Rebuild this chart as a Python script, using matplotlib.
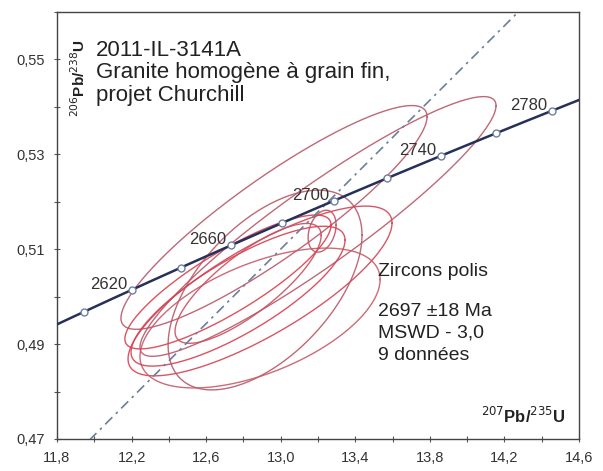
import numpy as np
import matplotlib
matplotlib.use("Agg")
import matplotlib.pyplot as plt

plt.rcParams['font.family'] = ['Liberation Sans', 'DejaVu Sans']

# Decay constants (per year)
LAMBDA_238 = 1.55125e-10
LAMBDA_235 = 9.8485e-10

# Concordia ages marked (Ma) and which of them carry a label
marker_ages = [2600, 2620, 2640, 2660, 2680, 2700, 2720, 2740, 2760, 2780]
labeled_ages = [2620, 2660, 2700, 2740, 2780]
curve_age_range = (2550, 2830)

# Intercepts of the regression line (Ma)
upper_intercept = 2697
lower_intercept = 0

# Analyses: 207Pb/235U, 206Pb/238U, 2-sigma errors and error correlation
x_ratio = [13.200, 12.964, 12.889, 12.916, 13.222, 12.889, 12.717, 12.771, 12.825]
y_ratio = [0.5148, 0.5167, 0.5012, 0.5014, 0.5138, 0.4955, 0.5031, 0.5001, 0.5028]
x_err2s = [0.955, 0.821, 0.708, 0.520, 0.075, 0.644, 0.553, 0.574, 0.392]
y_err2s = [0.02737, 0.02358, 0.01789, 0.02105, 0.00442, 0.01474, 0.01411, 0.01474, 0.01263]
err_corr = [0.93, 0.90, 0.80, 0.55, 0.30, 0.55, 0.85, 0.80, 0.80]
ellipse_colors = ['#b85868', '#b85868', '#d24455', '#b85868', '#c25060',
                  '#c85a68', '#d8404f', '#d8404f', '#c85060']

x_ticks = [11.8, 12.2, 12.6, 13.0, 13.4, 13.8, 14.2, 14.6]
x_tick_labels = ["11,8", "12,2", "12,6", "13,0", "13,4", "13,8", "14,2", "14,6"]
y_ticks = [0.47, 0.49, 0.51, 0.53, 0.55]
y_tick_labels = ["0,47", "0,49", "0,51", "0,53", "0,55"]

title_lines = ["2011-IL-3141A", "Granite homogène à grain fin,", "projet Churchill"]
result_lines = ["2697 ±18 Ma", "MSWD - 3,0", "9 données"]


def concordia(age_ma):
    t = np.asarray(age_ma, dtype=float) * 1e6
    return np.exp(LAMBDA_235 * t) - 1.0, np.exp(LAMBDA_238 * t) - 1.0


W, H = 603, 471
fig = plt.figure(figsize=(W / 100, H / 100), dpi=100)
ax = fig.add_axes([57 / W, 1 - 439 / H, (579 - 57) / W, (439 - 12) / H])
ax.set_xlim(11.8, 14.6)
ax.set_ylim(0.47, 0.56)

# Error ellipses
theta = np.linspace(0, 2 * np.pi, 300)
for cx, cy, sx, sy, r, c in zip(x_ratio, y_ratio, x_err2s, y_err2s, err_corr, ellipse_colors):
    ex = cx + sx * np.cos(theta)
    ey = cy + sy * (r * np.cos(theta) + np.sqrt(1 - r * r) * np.sin(theta))
    ax.plot(ex, ey, color=c, lw=1.0, alpha=0.9, zorder=2)

# Regression line through both intercepts
xu, yu = concordia(upper_intercept)
xl, yl = concordia(lower_intercept)
xs = np.linspace(11.8, 14.6, 50)
ys = yl + (yu - yl) / (xu - xl) * (xs - xl)
ax.plot(xs, ys, color='#6a7f99', lw=1.2, linestyle=(0, (6, 3, 1.5, 3)), zorder=3)

# Concordia curve with age markers
ages = np.linspace(*curve_age_range, 300)
cxv, cyv = concordia(ages)
ax.plot(cxv, cyv, color='#27305a', lw=1.8, zorder=4)
mx, my = concordia(marker_ages)
ax.plot(mx, my, 'o', ms=5, mfc='white', mec='#7080a0', mew=1.0, zorder=5)
for a in labeled_ages:
    px, py = concordia(a)
    ax.annotate(str(a), (px, py), xytext=(-3, 4), textcoords='offset points',
                ha='right', va='center', fontsize=12, color='#333333', zorder=6)

# Axes styling
ax.set_xticks(x_ticks)
ax.set_xticklabels(x_tick_labels)
ax.set_yticks(y_ticks)
ax.set_yticklabels(y_tick_labels)
ax.set_xticks(np.arange(11.8, 14.61, 0.2), minor=True)
ax.set_yticks(np.arange(0.47, 0.561, 0.01), minor=True)
ax.tick_params(which='both', direction='inout', length=5, width=0.8, color='#555555')
ax.tick_params(axis='both', labelsize=10.5, labelcolor='#333333', pad=6)
for s in ax.spines.values():
    s.set_color('#444444')
    s.set_linewidth(1.0)

# Axis titles placed inside the frame
ax.text(0.975, 0.055, r'$^{207}$Pb/$^{235}$U', transform=ax.transAxes,
        ha='right', va='center', fontsize=12, fontweight='bold', color='#222222')
fig.text(79 / W, 1 - 78 / H, r'$^{206}$Pb/$^{238}$U', rotation=90,
         ha='center', va='center', fontsize=11, fontweight='bold', color='#222222')

# Sample description
for i, line in enumerate(title_lines):
    fig.text(96 / W, 1 - (50 + 22.5 * i) / H, line, ha='left', va='center',
             fontsize=16, color='#222222')

# Result summary
fig.text(378 / W, 1 - 272 / H, "Zircons polis", ha='left', va='center',
         fontsize=14, color='#222222')
for i, line in enumerate(result_lines):
    fig.text(378 / W, 1 - (311 + 22 * i) / H, line, ha='left', va='center',
             fontsize=14, color='#222222')

fig.savefig("out.png", dpi=100)
